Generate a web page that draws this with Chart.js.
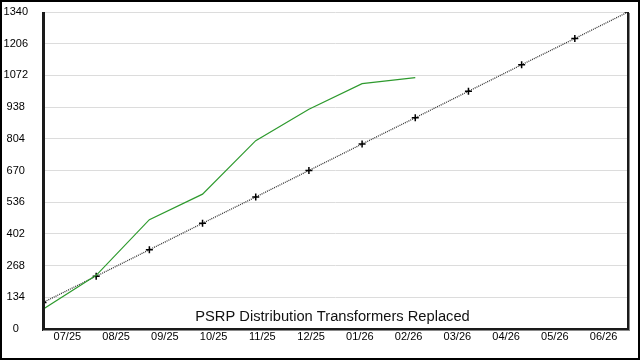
<!DOCTYPE html>
<html>
<head>
<meta charset="utf-8">
<script src="https://cdn.jsdelivr.net/npm/chart.js@4/dist/chart.umd.min.js"></script>
<style>
  html, body { margin: 0; padding: 0; background: #fff; }
  canvas { display: block; }
</style>
</head>
<body>
<canvas id="myChart" width="640" height="360"></canvas>
<script>
// month labels shown under the plot
const months = ['07/25', '08/25', '09/25', '10/25', '11/25', '12/25',
                '01/26', '02/26', '03/26', '04/26', '05/26', '06/26'];
// cumulative target (dotted line with + markers)
const target = [112, 223, 335, 447, 558, 670, 782, 893, 1005, 1117, 1228, 1340];
// cumulative actual replacements (green line)
const actual = [84, 227, 462, 570, 796, 929, 1037, 1063];
const yTicks = [0, 134, 268, 402, 536, 670, 804, 938, 1072, 1206, 1340];
const chartTitle = 'PSRP Distribution Transformers Replaced';

const FONT = "'Liberation Sans', Arial, sans-serif";

const framePlugin = {
    id: 'frame',
    beforeDraw(chart) {
        const c = chart.ctx;
        c.save();
        c.fillStyle = '#fff';
        c.fillRect(0, 0, chart.width, chart.height);
        c.restore();
    },
    afterDatasetsDraw(chart) {
        const c = chart.ctx;
        const a = chart.chartArea;
        c.save();
        // title inside the plot, near the bottom
        c.fillStyle = '#111';
        c.font = '14.7px ' + FONT;
        c.textAlign = 'center';
        c.textBaseline = 'alphabetic';
        c.fillText(chartTitle, (a.left + a.right) / 2 - 3, a.bottom - 8);
        // plot frame (left axis, bottom axis, right edge)
        c.fillStyle = '#1a1a1a';
        c.fillRect(a.left - 1, a.top, 3, a.bottom - a.top + 2);
        c.fillRect(a.left - 1, a.bottom - 1, a.right - a.left + 2, 2);
        c.fillRect(a.right - 1, a.top, 2, a.bottom - a.top + 1);
        c.fillStyle = '#8a8a8a';
        c.fillRect(a.left, a.bottom + 1, a.right - a.left + 2, 1);
        c.fillRect(a.right + 1, a.top + 1, 1, a.bottom - a.top + 1);
        // outer border
        c.strokeStyle = '#000';
        c.lineWidth = 2;
        c.strokeRect(1, 1, chart.width - 2, chart.height - 2);
        c.restore();
    }
};

const ctx = document.getElementById('myChart').getContext('2d');
const myChart = new Chart(ctx, {
    type: 'line',
    data: {
        labels: months,
        datasets: [{
            label: 'Target',
            data: target.map((v, i) => ({ x: i, y: v })),
            borderColor: '#333',
            borderWidth: 1.3,
            borderDash: [1, 1],
            pointStyle: 'cross',
            pointRadius: 3.5,
            pointBorderColor: '#000',
            pointBorderWidth: 1.5,
            fill: false,
            tension: 0,
            xAxisID: 'x',
            order: 2
        }, {
            label: 'Actual',
            data: actual.map((v, i) => ({ x: i, y: v })),
            borderColor: '#2e9a2e',
            borderWidth: 1.2,
            pointRadius: 0,
            fill: false,
            tension: 0,
            xAxisID: 'x',
            order: 1
        }]
    },
    options: {
        responsive: false,
        animation: false,
        layout: { padding: { left: 0, right: 12, top: 12, bottom: 0 } },
        plugins: {
            legend: { display: false },
            tooltip: { enabled: false },
            title: { display: false }
        },
        scales: {
            x: {
                type: 'linear',
                display: false,
                min: 0,
                max: months.length - 1
            },
            x2: {
                type: 'category',
                labels: months,
                position: 'bottom',
                offset: true,
                grid: { display: false, drawTicks: false },
                border: { display: false },
                ticks: {
                    color: '#000',
                    font: { family: FONT, size: 11 },
                    padding: 1,
                    maxRotation: 0,
                    autoSkip: false
                },
                afterFit(axis) { axis.height = 31; }
            },
            y: {
                min: 0,
                max: 1340,
                afterBuildTicks(axis) { axis.ticks = yTicks.map(v => ({ value: v })); },
                grid: { color: '#dcdcdc', lineWidth: 1, drawTicks: false },
                border: { display: false },
                ticks: {
                    color: '#000',
                    font: { family: FONT, size: 11 },
                    crossAlign: 'center',
                    padding: 15,
                    callback: (v) => String(v)
                },
                afterFit(axis) {
                    axis.width = 43;
                    axis.paddingTop = 0;
                    axis.paddingBottom = 0;
                }
            }
        }
    },
    plugins: [framePlugin]
});
</script>
</body>
</html>
